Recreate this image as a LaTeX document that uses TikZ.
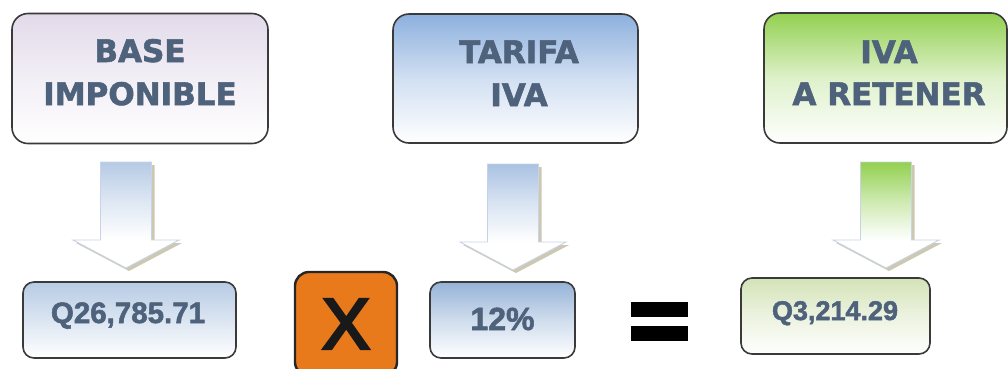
\documentclass[tikz,border=0pt]{standalone}
\usepackage{fontspec}
\setmainfont{Liberation Sans}[BoldFeatures={FakeBold=1.8}]
\newfontfamily\dvs{DejaVu Sans}[BoldFeatures={FakeBold=1.8}]
\newfontfamily\xfont{Liberation Sans}[FakeBold=4]
\definecolor{txt}{HTML}{4E627C}
\definecolor{boxline}{HTML}{3A3A3A}
\definecolor{lav}{HTML}{E2DAEA}
\definecolor{blu}{HTML}{8DB0DE}
\definecolor{grn}{HTML}{92D050}
\definecolor{arA}{HTML}{B5CAE4}
\definecolor{arB}{HTML}{A9C2E2}
\definecolor{arC}{HTML}{92D050}
\definecolor{qa}{HTML}{B7CBE4}
\definecolor{qb}{HTML}{95B3D7}
\definecolor{qc}{HTML}{D4E3B8}
\definecolor{orng}{HTML}{E87A1C}
\definecolor{arshadow}{HTML}{CDC8B2}
\definecolor{arline}{HTML}{C8D4E6}
\tikzset{
  bigbox/.style={draw=boxline, line width=1.6pt, rounded corners=16pt, inner sep=0pt},
  smallbox/.style={draw=boxline, line width=1.6pt, rounded corners=11pt, inner sep=0pt},
  toptext/.style={text=txt, font=\dvs\bfseries\fontsize{31}{31}\selectfont, anchor=base, inner sep=0pt},
  bottext/.style={text=txt, font=\bfseries\fontsize{#1}{#1}\selectfont, anchor=base, inner sep=0pt},
}
\newcommand{\blockarrow}[3]{%
  \begin{scope}[shift={(0,#3)}]
  \fill[arshadow, shift={(3,3)}] (#1-25.5,162) -- (#1+25.5,162) -- (#1+25.5,240) -- (#1+53,240) -- (#1,268) -- (#1-53,240) -- (#1-25.5,240) -- cycle;
  \fill[white] (#1-25.5,162) -- (#1+25.5,162) -- (#1+25.5,240) -- (#1+53,240) -- (#1,268) -- (#1-53,240) -- (#1-25.5,240) -- cycle;
  \shade[top color=#2, bottom color=white, middle color=#2!45] (#1-25.5,162) rectangle (#1+25.5,240);
  \draw[arline, line width=0.9pt, line join=miter] (#1-25.5,162) -- (#1+25.5,162) -- (#1+25.5,240) -- (#1+53,240) -- (#1,268) -- (#1-53,240) -- (#1-25.5,240) -- cycle;
  \end{scope}}
\begin{document}
\begin{tikzpicture}[x=1pt, y=-1pt]
\useasboundingbox (0,0) rectangle (1008,368);
% top boxes
\node[bigbox, top color=lav, bottom color=white, middle color=lav!45, minimum width=256pt, minimum height=130pt] (base) at (140,78.5) {};
\node[bigbox, top color=blu, bottom color=white, middle color=blu!40, minimum width=245pt, minimum height=129pt] (tarifa) at (515.5,78.5) {};
\node[bigbox, top color=grn, bottom color=white, middle color=grn!30, minimum width=243pt, minimum height=130pt] (ivaret) at (885.5,78) {};
\node[toptext] (t1a) at (140,62) {BASE};
\node[toptext] (t1b) at (140,105) {IMPONIBLE};
\node[toptext] (t2a) at (519,63) {TARIFA};
\node[toptext] (t2b) at (519,106) {IVA};
\node[toptext] (t3a) at (889,63) {IVA};
\node[toptext] (t3b) at (889,105) {A RETENER};
% arrows
\blockarrow{126}{arA}{0}
\blockarrow{513}{arB}{2}
\blockarrow{886}{arC}{0}
% bottom boxes
\node[smallbox, top color=qa, bottom color=white, middle color=qa!50, minimum width=213pt, minimum height=76pt] (q1) at (129.5,320) {};
\node[smallbox, top color=qb, bottom color=white, middle color=qb!45, minimum width=145pt, minimum height=76pt] (q2) at (502.5,320) {};
\node[smallbox, top color=qc, bottom color=white, middle color=qc!45, minimum width=189pt, minimum height=76pt] (q3) at (835.5,316) {};
\node[bottext=29.5] (v1) at (128,323) {Q26,785.71};
\node[bottext=32] (v2) at (502.5,330) {12\%};
\node[bottext=27] (v3) at (835,320) {Q3,214.29};
% operator X
\node[draw=black!85, line width=2.4pt, rounded corners=14pt, fill=orng, minimum width=102pt, minimum height=104pt, inner sep=0pt, font=\xfont\fontsize{72}{72}\selectfont, text=black!90] (times) at (346,324) {X};
% equals
\fill[black] (631,302) rectangle (688,317);
\fill[black] (631,326) rectangle (688,341);
\end{tikzpicture}
\end{document}
